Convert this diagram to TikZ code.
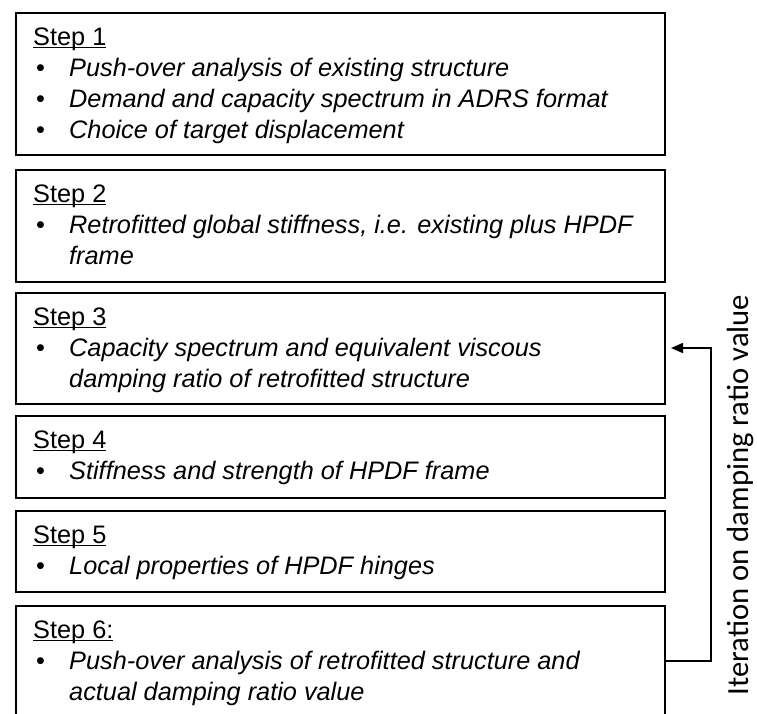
\documentclass[tikz,border=0pt]{standalone}
\usepackage{fontspec}
\setmainfont{Liberation Sans}
\newfontfamily\calib{Carlito}
\usetikzlibrary{arrows.meta}
\newcommand\stepul[1]{\leavevmode\setbox0\hbox{#1}\rlap{\raisebox{-3.3pt}{\rule{\wd0}{1.5pt}}}\box0}
\newcommand\bul{\leavevmode\makebox[36pt][l]{\hspace{3pt}•}}
\newcommand\stx[1]{\parbox[t]{620pt}{#1}}
\begin{document}
\begin{tikzpicture}[x=1pt,y=-1pt,
  stepbox/.style={draw=black,line width=2pt,anchor=north west,inner sep=0pt,minimum width=649pt},
  steptext/.style={anchor=base west,inner sep=0pt,font=\fontsize{25.3}{31}\selectfont},
  loopline/.style={line width=1.6pt,-{Triangle[length=12pt,width=10pt]}}]
\clip (0,0) rectangle (757,713);
\node[stepbox,minimum height=142pt] (b1) at (15,12) {};
\node[stepbox,minimum height=112pt] (b2) at (15,169) {};
\node[stepbox,minimum height=111pt] (b3) at (15,292) {};
\node[stepbox,minimum height=82pt] (b4) at (15,415) {};
\node[stepbox,minimum height=81pt] (b5) at (15,510) {};
\node[stepbox,minimum height=112pt] (b6) at (15,605) {};
\node[steptext] (t1) at (33,45) {\stx{\stepul{Step 1}\\
\bul\textit{Push-over analysis of existing structure}\\
\bul\textit{Demand and capacity spectrum in ADRS format}\\
\bul\textit{Choice of target displacement}}};
\node[steptext] (t2) at (33,202) {\stx{\stepul{Step 2}\\
\bul\textit{Retrofitted global stiffness, i.e. existing plus HPDF}\\
\hspace*{36pt}\textit{frame}}};
\node[steptext] (t3) at (33,325) {\stx{\stepul{Step 3}\\
\bul\textit{Capacity spectrum and equivalent viscous}\\
\hspace*{36pt}\textit{damping ratio of retrofitted structure}}};
\node[steptext] (t4) at (33,448) {\stx{\stepul{Step 4}\\
\bul\textit{Stiffness and strength of HPDF frame}}};
\node[steptext] (t5) at (33,543) {\stx{\stepul{Step 5}\\
\bul\textit{Local properties of HPDF hinges}}};
\node[steptext] (t6) at (33,638) {\stx{\stepul{Step 6:}\\
\bul\textit{Push-over analysis of retrofitted structure and}\\
\hspace*{36pt}\textit{actual damping ratio value}}};
\coordinate (c1) at (711,661);
\coordinate (c2) at (711,348);
\draw[loopline] (b6.east |- c1) -- (c1) -- (c2) -- ([xshift=5pt]b3.east |- c2);
\node[rotate=90,anchor=base,inner sep=0pt,font=\calib\fontsize{30.7}{34}\selectfont] (lbl) at (748,495) {Iteration on damping ratio value};
\end{tikzpicture}
\end{document}
